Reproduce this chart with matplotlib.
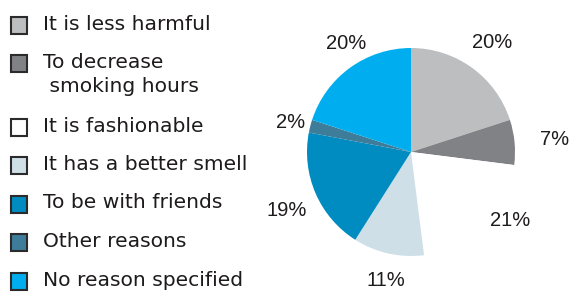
import numpy as np
import matplotlib
matplotlib.use("Agg")
import matplotlib.pyplot as plt
from matplotlib.patches import Rectangle

plt.rcParams['font.family'] = ['Liberation Sans', 'DejaVu Sans']

categories = ["It is less harmful", "To decrease\n smoking hours", "It is fashionable",
              "It has a better smell", "To be with friends", "Other reasons",
              "No reason specified"]
values = [20, 7, 21, 11, 19, 2, 20]
colors = ["#BCBEC0", "#808285", "#FFFFFF", "#CFDFE7", "#008CC0", "#3D7D9A", "#00AEEF"]

# label placement (layout only): radius factor and angular nudge per label
label_r = [1.31, 1.39, 1.16, 1.26, 1.32, 1.19, 1.21]
label_dang = [-0.7, -0.4, 10.5, 1.4, 1.7, 0.4, -5.2]

text_color = "#1E1B1C"
W, H = 572, 293

fig = plt.figure(figsize=(W / 100, H / 100), dpi=100)
cx, cy, R = 411, 152, 104
ax = fig.add_axes([(cx - R) / W, (H - cy - R) / H, 2 * R / W, 2 * R / H])

wedges, texts, autotexts = ax.pie(
    values, colors=colors, startangle=90, counterclock=False,
    autopct=lambda p: f"{p:.0f}%", pctdistance=1.28,
    wedgeprops=dict(linewidth=0),
    textprops=dict(fontsize=14.5, color=text_color))
for w, t, rf, da in zip(wedges, autotexts, label_r, label_dang):
    ang = np.deg2rad((w.theta1 + w.theta2) / 2 + da)
    t.set_position((rf * np.cos(ang), rf * np.sin(ang)))
    t.set_ha('center')
    t.set_va('center')
ax.set_xlim(-1, 1)
ax.set_ylim(-1, 1)
ax.set_aspect('equal')
ax.axis('off')

# manual legend on the left
y = 25.0
box = 17
for lab, c in zip(categories, colors):
    fig.add_artist(Rectangle(((10.5) / W, (H - y - box / 2) / H), box / W, box / H,
                             transform=fig.transFigure, facecolor=c,
                             edgecolor="#2b2b2b", linewidth=1.5))
    nlines = lab.count("\n") + 1
    fig.text(43 / W, (H - y + 10.5) / H, lab, ha='left', va='top',
             fontsize=14.6, color=text_color, family='DejaVu Sans',
             linespacing=1.3)
    y += 38.5 + 25 * (nlines - 1)

fig.savefig("out.png", dpi=100)
